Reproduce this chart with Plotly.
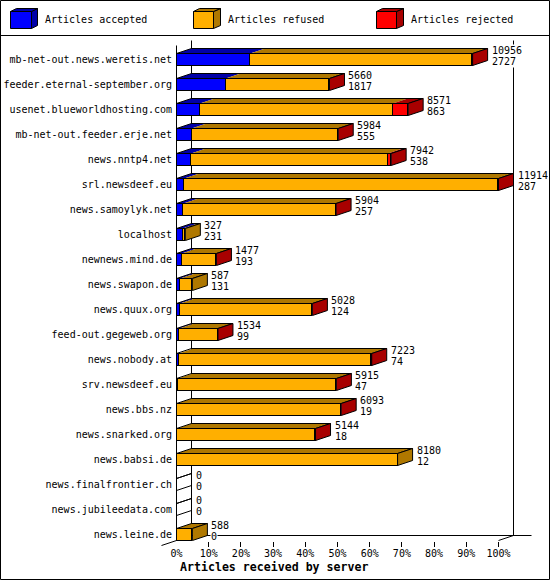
import plotly.graph_objects as go

servers = ["mb-net-out.news.weretis.net", "feeder.eternal-september.org", "usenet.blueworldhosting.com",
           "mb-net-out.feeder.erje.net", "news.nntp4.net", "srl.newsdeef.eu", "news.samoylyk.net", "localhost",
           "newnews.mind.de", "news.swapon.de", "news.quux.org", "feed-out.gegeweb.org", "news.nobody.at",
           "srv.newsdeef.eu", "news.bbs.nz", "news.snarked.org", "news.babsi.de", "news.finalfrontier.ch",
           "news.jubileedata.com", "news.leine.de"]
offered = [10956, 5660, 8571, 5984, 7942, 11914, 5904, 327, 1477, 587, 5028, 1534, 7223, 5915, 6093, 5144, 8180, 0, 0, 588]
accepted = [2727, 1817, 863, 555, 538, 287, 257, 231, 193, 131, 124, 99, 74, 47, 19, 18, 12, 0, 0, 0]
rejected = [30, 8, 570, 10, 120, 30, 20, 0, 5, 0, 8, 5, 30, 8, 5, 20, 0, 0, 0, 0]
legend_names = ["Articles accepted", "Articles refused", "Articles rejected"]
x_ticks = list(range(0, 101, 10))
x_title = "Articles received by server"

FONT = "DejaVu Sans Mono"
BLUE, BLUE_D = "#0000FF", "#0000A8"
ORANGE, ORANGE_D = "#FFAF00", "#AF7800"
RED, RED_D = "#FF0000", "#A80000"

W, H = 550, 580
L, R, T, B = 176, 532, 36, 541
PX_PER_PCT = 3.22
PX_PER_ROW = 25.0
ROW0_PX = 59.5
X0_PX = 176.5
DX = 15 / PX_PER_PCT
DY = 5 / PX_PER_ROW
BAR_W = 12 / PX_PER_ROW
HALF = BAR_W / 2


def paper_x(px):
    return (px - L) / (R - L)


def paper_y(py):
    return 1 - (py - T) / (B - T)


scale = max(offered)
rows = list(range(len(servers)))
refused = [o - a - r for o, a, r in zip(offered, accepted, rejected)]
pct = lambda v: 100 * v / scale
acc_p = [pct(v) for v in accepted]
ref_p = [pct(v) for v in refused]
rej_p = [pct(v) for v in rejected]
tot_p = [pct(v) for v in offered]

fig = go.Figure()

for vals, col, name in zip([acc_p, ref_p, rej_p], [BLUE, ORANGE, RED], legend_names):
    fig.add_trace(go.Bar(y=rows, x=vals, orientation="h", width=BAR_W, name=name,
                         marker=dict(color=col, line=dict(color="black", width=1)),
                         hoverinfo="skip", showlegend=False))


def poly_trace(xs, ys, fill, line_w):
    fig.add_trace(go.Scatter(x=xs, y=ys, mode="lines", fill="toself" if fill else "none",
                             fillcolor=fill or "rgba(0,0,0,0)",
                             line=dict(color="black", width=line_w), hoverinfo="skip",
                             showlegend=False))


# top faces, one colour per series
starts = [[0.0] * len(rows), acc_p, [a + b for a, b in zip(acc_p, ref_p)]]
for s, v, c in zip(starts, [acc_p, ref_p, rej_p], [BLUE_D, ORANGE_D, RED_D]):
    xs, ys = [], []
    for i in rows:
        if v[i] <= 0:
            continue
        yt = i - HALF
        xa, xb = s[i], s[i] + v[i]
        xs += [xa, xa + DX, xb + DX, xb, xa, None]
        ys += [yt, yt - DY, yt - DY, yt, yt, None]
    poly_trace(xs, ys, c, 0)

# top outline
xs, ys = [], []
for i in rows:
    yt = i - HALF
    xb = tot_p[i]
    xs += [0, DX, xb + DX, xb, 0, None]
    ys += [yt, yt - DY, yt - DY, yt, yt, None]
poly_trace(xs, ys, None, 1)

# end faces, coloured by the last non-empty series
for test, c in [(lambda i: rejected[i] > 0, RED_D),
                (lambda i: rejected[i] == 0 and refused[i] > 0, ORANGE_D)]:
    xs, ys = [], []
    for i in rows:
        if not test(i):
            continue
        yt, yb = i - HALF, i + HALF
        xb = tot_p[i]
        xs += [xb, xb + DX, xb + DX, xb, xb, None]
        ys += [yt, yt - DY, yb - DY, yb, yt, None]
    poly_trace(xs, ys, c, 1)

# empty rows: only the lower edge of the end face
xs, ys = [], []
for i in rows:
    if offered[i] == 0:
        xs += [0, DX, None]
        ys += [i + HALF, i + HALF - DY, None]
poly_trace(xs, ys, None, 1)

line = dict(color="black", width=1)
row_of = lambda py: (py - ROW0_PX) / PX_PER_ROW
pct_of = lambda px: (px - X0_PX) / PX_PER_PCT
shapes = [
    # walls
    dict(type="line", xref="x", yref="y", x0=DX, x1=DX, y0=row_of(40.5), y1=row_of(535.5), line=line, layer="below"),
    dict(type="line", xref="x", yref="y", x0=100 + DX, x1=100 + DX, y0=row_of(40.5), y1=row_of(535.5), line=line, layer="below"),
    dict(type="line", xref="x", yref="y", x0=DX, x1=pct_of(531.5), y0=row_of(535.5), y1=row_of(535.5), line=line, layer="below"),
    dict(type="line", xref="x", yref="y", x0=100, x1=100 + DX, y0=row_of(540.5), y1=row_of(535.5), line=line, layer="below"),
    dict(type="line", xref="x", yref="y", x0=0, x1=0, y0=row_of(45.5), y1=row_of(540.5), line=line, layer="below"),
    # lower-left floor edge
    dict(type="line", xref="paper", yref="paper", x0=paper_x(161.5), x1=paper_x(176.5),
         y0=paper_y(545.5), y1=paper_y(540.5), line=line),
    # frame and legend rule
    dict(type="rect", xref="paper", yref="paper", x0=paper_x(0.5), x1=paper_x(549.5),
         y0=paper_y(579.5), y1=paper_y(0.5), line=line),
    dict(type="line", xref="paper", yref="paper", x0=paper_x(0), x1=paper_x(550),
         y0=paper_y(35.5), y1=paper_y(35.5), line=line),
]


def poly_path(pts):
    return "M" + " L".join(f"{paper_x(a)},{paper_y(b)}" for a, b in pts) + " Z"


annotations = []
for (fx0, fx1, bx, lx), col, dark, name in zip(
        [(10.5, 31.5, 37.5, 43), (193.5, 213.5, 220.5, 226), (376.5, 396.5, 403.5, 409)],
        [BLUE, ORANGE, RED], [BLUE_D, ORANGE_D, RED_D], legend_names):
    shapes.append(dict(type="path", xref="paper", yref="paper", fillcolor=dark, line=line,
                       path=poly_path([(fx1, 11.5), (bx, 8.5), (bx, 25.5), (fx1, 28.5)])))
    shapes.append(dict(type="path", xref="paper", yref="paper", fillcolor=dark, line=line,
                       path=poly_path([(fx0, 11.5), (fx0 + 6, 8.5), (bx, 8.5), (fx1, 11.5)])))
    shapes.append(dict(type="path", xref="paper", yref="paper", fillcolor=col, line=line,
                       path=poly_path([(fx0, 11.5), (fx1, 11.5), (fx1, 28.5), (fx0, 28.5)])))
    annotations.append(dict(xref="paper", yref="paper", x=paper_x(lx), y=paper_y(20), text=name,
                            showarrow=False, xanchor="left", yanchor="middle",
                            font=dict(family=FONT, size=10, color="black")))

for i in rows:
    for val, shift in [(offered[i], 9), (accepted[i], -2)]:
        annotations.append(dict(x=tot_p[i] + DX, y=i, xref="x", yref="y", text=str(val), showarrow=False,
                                xanchor="left", yanchor="middle", xshift=3, yshift=shift, height=11,
                                borderpad=0, bgcolor="white",
                                font=dict(family=FONT, size=10, color="black")))

annotations.append(dict(xref="paper", yref="paper", x=paper_x(274), y=paper_y(567), text=x_title,
                        showarrow=False, xanchor="center", yanchor="middle",
                        font=dict(family=FONT, size=11.6, color="black", weight="bold")))

fig.update_layout(
    width=W, height=H, autosize=False, barmode="stack", bargap=0,
    margin=dict(l=L, r=W - R, t=T, b=H - B, pad=0, autoexpand=False),
    paper_bgcolor="white", plot_bgcolor="white", showlegend=False,
    font=dict(family=FONT, size=10, color="black"),
    xaxis=dict(range=[pct_of(L), pct_of(R)], tickmode="array", tickvals=x_ticks, automargin=False,
               ticktext=[f"{t}%" for t in x_ticks], ticks="", ticklabelstandoff=5,
               minor=dict(tickmode="array", tickvals=x_ticks[1:], ticks="outside", ticklen=5,
                          tickwidth=1, tickcolor="black", showgrid=False),
               showgrid=False, zeroline=False, showline=False,
               tickfont=dict(family=FONT, size=10, color="black")),
    yaxis=dict(range=[row_of(B), row_of(T)], tickmode="array", tickvals=rows, ticktext=servers,
               ticks="", showgrid=False, zeroline=False, showline=False, automargin=False,
               ticklabelstandoff=3,
               tickfont=dict(family=FONT, size=10, color="black")),
    shapes=shapes, annotations=annotations,
)

fig.write_html("out.html", config={"displayModeBar": False},
               post_script="document.body.style.margin='0';document.documentElement.style.overflow='hidden';")
